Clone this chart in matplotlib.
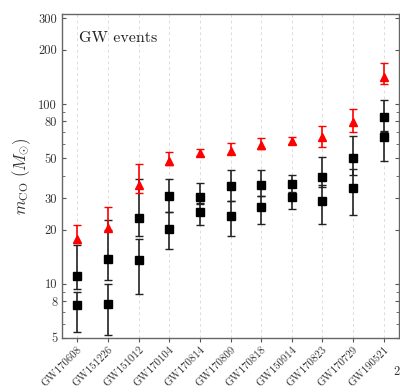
import matplotlib
matplotlib.use('Agg')
from matplotlib import pyplot as plt
from matplotlib.ticker import FixedLocator, NullFormatter

plt.rcParams['font.family'] = 'cmr10'
plt.rcParams['mathtext.fontset'] = 'cm'
plt.rcParams['axes.formatter.use_mathtext'] = True

events = ['GW170608', 'GW151226', 'GW151012', 'GW170104', 'GW170814', 'GW170809',
          'GW170818', 'GW150914', 'GW170823', 'GW170729', 'GW190521']

# red triangles: value, upper and lower end of error bar
tri = [17.8, 20.5, 35.5, 48.2, 53.5, 54.8, 59.2, 62.3, 65.6, 79.4, 141]
tri_hi = [21.3, 26.8, 46.4, 54.0, 56.3, 60.6, 64.9, 65.5, 75.5, 93.8, 169]
tri_lo = [16.9, 19.8, 32.0, 45.8, 51.4, 52.7, 56.3, 59.9, 57.7, 69.8, 129]

# black squares, upper one of each pair
sq1 = [11.1, 13.8, 23.3, 30.8, 30.4, 35.0, 35.5, 35.9, 39.3, 50.1, 84.7]
sq1_hi = [16.5, 22.7, 38.3, 38.3, 36.4, 43.0, 43.0, 40.3, 50.8, 66.4, 105]
sq1_lo = [9.3, 10.5, 18.5, 25.1, 28.0, 28.9, 30.8, 32.0, 34.6, 40.3, 69.8]

# black squares, lower one of each pair
sq2 = [7.65, 7.74, 13.6, 20.2, 25.1, 23.9, 26.8, 30.4, 28.9, 34.1, 65.6]
sq2_hi = [9.0, 10.0, 17.8, 25.1, 27.8, 28.9, 30.8, 32.5, 35.5, 43.6, 70.8]
sq2_lo = [5.41, 5.2, 8.8, 15.6, 21.3, 18.5, 21.5, 26.1, 21.5, 24.2, 48.2]

yticks = [5, 8, 10, 20, 30, 50, 80, 100, 200, 300]
yminor = [6, 7, 9, 40, 60, 70, 90]


def errs(vals, lo, hi):
    return [[v - l for v, l in zip(vals, lo)], [h - v for v, h in zip(vals, hi)]]


fig = plt.figure(figsize=(4.0, 3.92), dpi=100)
ax = fig.add_axes([0.155, 0.138, 0.8425, 0.826])

x = list(range(len(events)))

for xi in x:
    ax.axvline(xi, color='#dddddd', lw=0.7, ls=(0, (3, 3)), zorder=0)

ax.errorbar(x, sq1, yerr=errs(sq1, sq1_lo, sq1_hi), fmt='s', color='black',
            ecolor='#222222', ms=5.5, capsize=3, elinewidth=1.2, capthick=1.0)
ax.errorbar(x, sq2, yerr=errs(sq2, sq2_lo, sq2_hi), fmt='s', color='black',
            ecolor='#222222', ms=5.5, capsize=3, elinewidth=1.2, capthick=1.0)
ax.errorbar(x, tri, yerr=errs(tri, tri_lo, tri_hi), fmt='^', color='red',
            ecolor='red', ms=6, capsize=3, elinewidth=1.2, capthick=1.0)

ax.set_yscale('log')
ax.set_ylim(5, 316)
ax.set_xlim(-0.5, 10.5)

ax.yaxis.set_major_locator(FixedLocator(yticks))
ax.set_yticklabels([str(t) for t in yticks])
ax.yaxis.set_minor_locator(FixedLocator(yminor))
ax.yaxis.set_minor_formatter(NullFormatter())

ax.set_xticks(x)
ax.set_xticklabels(events, rotation=45, ha='right', rotation_mode='anchor')

ax.tick_params(axis='y', which='both', left=True, right=True, direction='in',
               labelsize=9, labelcolor='#333333', color='#555555')
ax.tick_params(axis='y', which='major', length=3)
ax.tick_params(axis='y', which='minor', length=2)
ax.tick_params(axis='x', length=3, pad=2, labelsize=7.8, labelcolor='#333333',
               color='#555555')

for s in ax.spines.values():
    s.set_color('#666666')
    s.set_linewidth(1.0)

ax.set_ylabel(r'$m_{\rm CO}\ (M_{\odot})$', fontsize=12, color='#333333')
ax.text(0.05, 0.915, 'GW events', transform=ax.transAxes, fontsize=11.5,
        color='#222222')

fig.text(0.99, 0.05, '2', fontsize=9, color='#333333', ha='center', va='center')

fig.savefig('out.png', dpi=100)
